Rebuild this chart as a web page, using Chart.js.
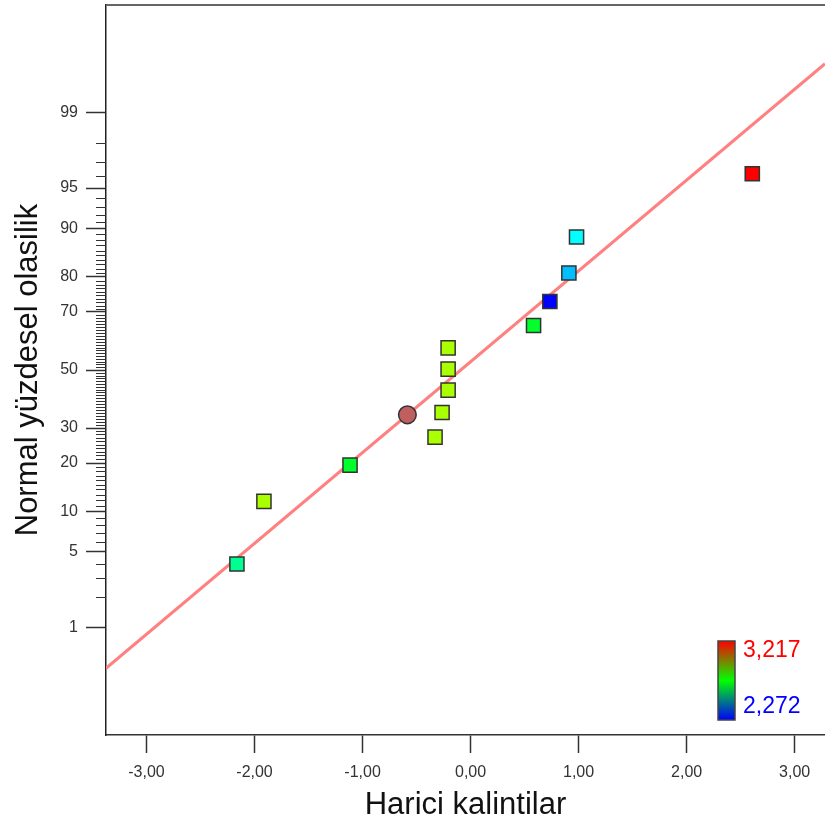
<!DOCTYPE html>
<html lang="tr">

<head>
    <meta charset="UTF-8">
    <title>Normal olasilik grafigi</title>
    <style>
        html, body { margin: 0; padding: 0; background: #fff; }
        #wrap { width: 825px; height: 827px; }
    </style>
</head>

<body>

    <div id="wrap"><canvas id="myChart" width="825" height="827"></canvas></div>

    <script src="https://cdn.jsdelivr.net/npm/chart.js@4.4.1/dist/chart.umd.min.js"></script>

    <script>
        // externally studentized residuals and their normal % probability
        var residuals = [-2.163, -1.913, -1.116, -0.329, -0.264, -0.208, -0.208, -0.208, 0.583, 0.734, 0.910, 0.981, 2.608];
        var probabilities = [3.97, 11.74, 19.49, 27.19, 35.05, 42.76, 50.29, 57.91, 65.62, 73.2, 80.98, 88.54, 96.2];
        // response value of each run, used for the point colour
        var responses = [2.611, 2.902, 2.705, 2.902, 2.902, 2.902, 2.902, 2.902, 2.705, 2.272, 2.449, 2.508, 3.217];

        // the round (highlighted) point
        var markedResidual = [-0.585];
        var markedProbability = [34.25];

        var colorMin = 2.272;
        var colorMax = 3.217;

        var probTicks = [1, 5, 10, 20, 30, 50, 70, 80, 90, 95, 99];
        var residualTicks = [-3, -2, -1, 0, 1, 2, 3];

        // reference line, in normal score units
        var fitSlope = 0.8212;
        var fitIntercept = 0.0746;

        var xMin = -3.375, xMax = 3.281;
        var zMin = -3.3, zMax = 3.3;

        // inverse of the standard normal cdf (Acklam)
        function probit(pct) {
            var p = pct / 100;
            var a = [-3.969683028665376e+01, 2.209460984245205e+02, -2.759285104469687e+02, 1.383577518672690e+02, -3.066479806614716e+01, 2.506628277459239e+00];
            var b = [-5.447609879822406e+01, 1.615858368580409e+02, -1.556989798598866e+02, 6.680131188771972e+01, -1.328068155288572e+01];
            var c = [-7.784894002430293e-03, -3.223964580411365e-01, -2.400758277161838e+00, -2.549732539343734e+00, 4.374664141464968e+00, 2.938163982698783e+00];
            var d = [7.784695709041462e-03, 3.224671290700398e-01, 2.445134137142996e+00, 3.754408661907416e+00];
            var q, r;
            if (p < 0.02425) {
                q = Math.sqrt(-2 * Math.log(p));
                return (((((c[0] * q + c[1]) * q + c[2]) * q + c[3]) * q + c[4]) * q + c[5]) /
                    ((((d[0] * q + d[1]) * q + d[2]) * q + d[3]) * q + 1);
            }
            if (p > 1 - 0.02425) {
                q = Math.sqrt(-2 * Math.log(1 - p));
                return -(((((c[0] * q + c[1]) * q + c[2]) * q + c[3]) * q + c[4]) * q + c[5]) /
                    ((((d[0] * q + d[1]) * q + d[2]) * q + d[3]) * q + 1);
            }
            q = p - 0.5;
            r = q * q;
            return (((((a[0] * r + a[1]) * r + a[2]) * r + a[3]) * r + a[4]) * r + a[5]) * q /
                (((((b[0] * r + b[1]) * r + b[2]) * r + b[3]) * r + b[4]) * r + 1);
        }

        function colorFor(v) {
            var h = 240 * (1 - (v - colorMin) / (colorMax - colorMin));
            return 'hsl(' + h.toFixed(1) + ',100%,50%)';
        }

        function noPadding(scale) {
            scale.paddingTop = 0;
            scale.paddingBottom = 0;
            scale.paddingLeft = 0;
            scale.paddingRight = 0;
        }

        var fontFamily = '"Liberation Sans", Arial, sans-serif';

        var runPoints = residuals.map(function (x, i) {
            return { x: x, y: probit(probabilities[i]) };
        });
        var markedPoints = markedResidual.map(function (x, i) {
            return { x: x, y: probit(markedProbability[i]) };
        });
        var fitLine = [xMin, xMax].map(function (x) {
            return { x: x, y: fitSlope * x + fitIntercept };
        });

        // minor probability ticks, top frame line and the colour key
        var extras = {
            id: 'extras',
            afterDraw: function (chart) {
                var ctx = chart.ctx;
                var area = chart.chartArea;
                var yScale = chart.scales.y;
                ctx.save();

                ctx.strokeStyle = '#333';
                ctx.lineWidth = 1;
                for (var p = 1; p <= 99; p++) {
                    if (probTicks.indexOf(p) >= 0) continue;
                    var py = Math.round(yScale.getPixelForValue(probit(p))) + 0.5;
                    ctx.beginPath();
                    ctx.moveTo(area.left - 10, py);
                    ctx.lineTo(area.left, py);
                    ctx.stroke();
                }

                ctx.strokeStyle = '#666';
                ctx.lineWidth = 2;
                ctx.beginPath();
                ctx.moveTo(area.left, area.top);
                ctx.lineTo(area.right, area.top);
                ctx.stroke();

                var bx = area.right - 107, by = area.bottom - 94, bw = 17, bh = 79;
                var grad = ctx.createLinearGradient(0, by, 0, by + bh);
                grad.addColorStop(0, '#ff0000');
                grad.addColorStop(0.5, '#00ff00');
                grad.addColorStop(1, '#0000ff');
                ctx.fillStyle = grad;
                ctx.fillRect(bx, by, bw, bh);
                ctx.strokeStyle = '#444';
                ctx.lineWidth = 1.5;
                ctx.strokeRect(bx, by, bw, bh);

                ctx.font = '23px ' + fontFamily;
                ctx.textAlign = 'left';
                ctx.textBaseline = 'middle';
                ctx.fillStyle = '#ff0000';
                ctx.fillText(colorMax.toFixed(3).replace('.', ','), bx + 25, by + 10);
                ctx.fillStyle = '#0000ff';
                ctx.fillText(colorMin.toFixed(3).replace('.', ','), bx + 25, by + 66);

                ctx.restore();
            }
        };

        var ctx = document.getElementById('myChart').getContext('2d');
        var myChart = new Chart(ctx, {
            type: 'scatter',
            data: {
                datasets: [
                    {
                        type: 'line',
                        data: fitLine,
                        borderColor: '#ff8080',
                        borderWidth: 3,
                        pointRadius: 0,
                        order: 3
                    },
                    {
                        data: runPoints,
                        pointStyle: 'rect',
                        pointRadius: 10,
                        backgroundColor: responses.map(colorFor),
                        borderColor: '#333',
                        borderWidth: 1.5,
                        order: 2
                    },
                    {
                        data: markedPoints,
                        pointStyle: 'circle',
                        pointRadius: 8.8,
                        backgroundColor: '#bf5f5f',
                        borderColor: '#333',
                        borderWidth: 1.5,
                        order: 1
                    }
                ]
            },
            options: {
                responsive: false,
                animation: false,
                layout: { autoPadding: false, padding: { top: 5, right: 0, left: 0, bottom: 0 } },
                plugins: {
                    legend: { display: false },
                    tooltip: { enabled: false }
                },
                scales: {
                    x: {
                        type: 'linear',
                        min: xMin,
                        max: xMax,
                        afterBuildTicks: function (scale) {
                            scale.ticks = residualTicks.map(function (v) { return { value: v }; });
                        },
                        afterFit: function (scale) { scale.height = 92; noPadding(scale); },
                        grid: { drawOnChartArea: false, drawTicks: true, tickLength: 18, tickColor: '#333', tickWidth: 1.5 },
                        border: { display: true, color: '#333', width: 1.5 },
                        ticks: {
                            color: '#333',
                            padding: 10,
                            maxRotation: 0,
                            autoSkip: false,
                            font: { family: fontFamily, size: 16 },
                            callback: function (v) { return v.toFixed(2).replace('.', ','); }
                        },
                        title: {
                            display: true,
                            text: 'Harici kalintilar',
                            color: '#111',
                            font: { family: fontFamily, size: 31 },
                            padding: { top: 0, bottom: 3 }
                        }
                    },
                    y: {
                        type: 'linear',
                        min: zMin,
                        max: zMax,
                        afterBuildTicks: function (scale) {
                            scale.ticks = probTicks.map(function (p) { return { value: probit(p) }; });
                        },
                        afterFit: function (scale) { scale.width = 106; noPadding(scale); },
                        grid: { drawOnChartArea: false, drawTicks: true, tickLength: 20, tickColor: '#333', tickWidth: 1.5 },
                        border: { display: true, color: '#222', width: 1.5 },
                        ticks: {
                            color: '#333',
                            padding: 8,
                            autoSkip: false,
                            font: { family: fontFamily, size: 16 },
                            callback: function (v, i) { return String(probTicks[i]); }
                        },
                        title: {
                            display: true,
                            text: 'Normal yüzdesel olasilik',
                            color: '#111',
                            font: { family: fontFamily, size: 31 },
                            padding: { top: 10, bottom: 0 }
                        }
                    }
                }
            },
            plugins: [extras]
        });
    </script>

</body>

</html>
